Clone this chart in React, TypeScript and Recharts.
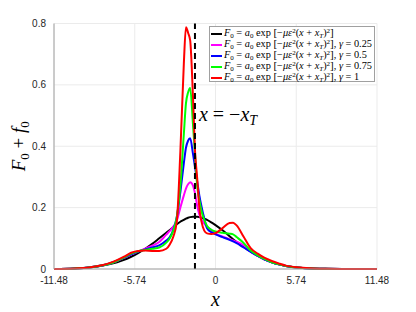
import React from "react";
import {
  LineChart,
  Line,
  XAxis,
  YAxis,
  CartesianGrid,
  ReferenceLine,
} from "recharts";

// sample positions along x
const xs = [
  -11.48, -10, -9, -8, -7.5, -7, -6.5, -6, -5.5, -5, -4.5, -4, -3.5, -3.25, -3,
  -2.75, -2.5, -2.25, -2.1, -1.95, -1.8, -1.6, -1.45, -1.3, -1.15, -1, -0.8,
  -0.6, -0.3, 0, 0.5, 1, 1.25, 1.5, 2, 2.5, 3, 3.5, 4, 4.5, 5, 6, 7, 8, 9, 10,
  11.48,
];

// F0 = a0 exp[...]  (no gamma)
const black = [
  0.0003, 0.002, 0.005, 0.011, 0.016, 0.022, 0.03, 0.04, 0.052, 0.066, 0.082,
  0.1, 0.118, 0.127, 0.137, 0.146, 0.154, 0.16, 0.164, 0.167, 0.169, 0.17,
  0.17, 0.17, 0.169, 0.167, 0.164, 0.16, 0.152, 0.143, 0.126, 0.107, 0.097,
  0.088, 0.072, 0.057, 0.043, 0.031, 0.022, 0.015, 0.01, 0.004, 0.0012,
  0.0004, 0.0001, 0, 0,
];
// gamma = 0.25
const magenta = [
  0, 0.002, 0.005, 0.012, 0.018, 0.026, 0.036, 0.047, 0.057, 0.066, 0.076,
  0.088, 0.112, 0.124, 0.138, 0.158, 0.2, 0.24, 0.262, 0.276, 0.283, 0.272,
  0.245, 0.205, 0.178, 0.162, 0.148, 0.138, 0.126, 0.115, 0.106, 0.097, 0.093,
  0.089, 0.077, 0.057, 0.043, 0.031, 0.022, 0.015, 0.01, 0.004, 0.0015, 0.0005,
  0.0001, 0, 0,
];
// gamma = 0.5
const blue = [
  0, 0.002, 0.005, 0.012, 0.018, 0.027, 0.037, 0.048, 0.057, 0.064, 0.07,
  0.077, 0.093, 0.104, 0.128, 0.17, 0.25, 0.345, 0.395, 0.418, 0.426, 0.375,
  0.33, 0.285, 0.24, 0.205, 0.165, 0.133, 0.12, 0.113, 0.104, 0.095, 0.09,
  0.084, 0.07, 0.056, 0.043, 0.031, 0.022, 0.015, 0.01, 0.004, 0.0015, 0.0005,
  0.0001, 0, 0,
];
// gamma = 0.75
const green = [
  0, 0.002, 0.005, 0.012, 0.018, 0.027, 0.038, 0.05, 0.058, 0.062, 0.066, 0.07,
  0.086, 0.1, 0.125, 0.17, 0.27, 0.44, 0.54, 0.575, 0.59, 0.47, 0.37, 0.27,
  0.225, 0.19, 0.16, 0.14, 0.128, 0.122, 0.118, 0.115, 0.113, 0.104, 0.085,
  0.06, 0.044, 0.032, 0.022, 0.015, 0.01, 0.004, 0.0015, 0.0005, 0.0001, 0, 0,
];
// gamma = 1
const red = [
  0, 0.002, 0.005, 0.013, 0.02, 0.029, 0.04, 0.053, 0.059, 0.06, 0.059, 0.059,
  0.066, 0.08, 0.105, 0.155, 0.38, 0.67, 0.788, 0.77, 0.745, 0.56, 0.38, 0.295,
  0.2, 0.155, 0.125, 0.116, 0.114, 0.117, 0.133, 0.15, 0.151, 0.142, 0.105,
  0.068, 0.05, 0.036, 0.026, 0.018, 0.011, 0.005, 0.002, 0.0007, 0.0002, 0, 0,
];

const gammas = ["", "0.25", "0.5", "0.75", "1"];
const colors = ["#000000", "#ff00ff", "#0000ff", "#00ff00", "#ff0000"];
const keys = ["black", "magenta", "blue", "green", "red"];

const xTicks = [-11.48, -5.74, 0, 5.74, 11.48];
const yTicks = [0, 0.2, 0.4, 0.6, 0.8];
const xT = -1.46;

const data = xs.map((x, i) => ({
  x,
  black: black[i],
  magenta: magenta[i],
  blue: blue[i],
  green: green[i],
  red: red[i],
}));

const serif = "'Liberation Serif', 'DejaVu Serif', serif";
const sans = "'Liberation Sans', Arial, sans-serif";

function MarkerLabel(props: any) {
  const { viewBox } = props;
  const x = viewBox.x + 4;
  const y = viewBox.y + 97;
  return (
    <text x={x} y={y} fontFamily={serif} fontSize={20} fill="#000">
      <tspan fontStyle="italic">x</tspan>
      <tspan> = −</tspan>
      <tspan fontStyle="italic">x</tspan>
      <tspan fontStyle="italic" fontSize={14} dy={4}>
        T
      </tspan>
    </text>
  );
}

function YLabel(props: any) {
  const { viewBox } = props;
  const cx = viewBox.x + 25;
  const cy = viewBox.y + viewBox.height / 2;
  return (
    <text
      x={cx}
      y={cy}
      transform={`rotate(-90 ${cx} ${cy})`}
      textAnchor="middle"
      fontFamily={serif}
      fontSize={19}
      fill="#000"
    >
      <tspan fontStyle="italic">F</tspan>
      <tspan fontSize={13} dy={4}>0</tspan>
      <tspan dy={-4}> + </tspan>
      <tspan fontStyle="italic">f</tspan>
      <tspan fontSize={13} dy={4}>0</tspan>
    </text>
  );
}

function XLabel(props: any) {
  const { viewBox } = props;
  return (
    <text
      x={viewBox.x + viewBox.width / 2}
      y={viewBox.y + 37}
      textAnchor="middle"
      fontFamily={serif}
      fontStyle="italic"
      fontSize={20}
      fill="#000"
    >
      x
    </text>
  );
}

function LegendRow({ color, gamma }: { color: string; gamma: string }) {
  const sub = { fontSize: 7, verticalAlign: "-2px", lineHeight: "6px" };
  const sup = { fontSize: 7, verticalAlign: "3px", lineHeight: "6px" };
  const bracket = { fontSize: 11, lineHeight: "9px" };
  return (
    <div style={{ display: "flex", alignItems: "center", height: 11 }}>
      <div style={{ width: 11, height: 2, background: color, marginRight: 2 }} />
      <span style={{ whiteSpace: "nowrap", lineHeight: "9px" }}>
        <i>F</i>
        <span style={sub}>0</span> = <i>a</i>
        <span style={sub}>0</span> exp <span style={bracket}>[</span>−<i>με</i>
        <span style={sup}>2</span>(<i>x</i> + <i>x</i>
        <span style={{ ...sub, fontStyle: "italic" }}>T</span>)
        <span style={sup}>2</span>
        <span style={bracket}>]</span>
        {gamma ? (
          <>
            , <i>γ</i> = {gamma}
          </>
        ) : null}
      </span>
    </div>
  );
}

export default function App() {
  return (
    <div
      style={{
        position: "absolute",
        left: 0,
        top: 0,
        width: 416,
        height: 312,
        background: "#fff",
      }}
    >
      <LineChart
        width={416}
        height={312}
        data={data}
        margin={{ top: 23.5, right: 39, bottom: 0, left: 0 }}
      >
        <CartesianGrid stroke="#ebebeb" strokeWidth={1} />
        <XAxis
          dataKey="x"
          type="number"
          domain={[-11.48, 11.48]}
          ticks={xTicks}
          tickLine={false}
          height={43}
          stroke="#a0a0a0"
          tick={{ fill: "#262626", fontSize: 10, fontFamily: sans }}
          tickFormatter={(v: number) => String(v)}
          label={<XLabel />}
        />
        <XAxis
          xAxisId="top"
          dataKey="x"
          type="number"
          orientation="top"
          domain={[-11.48, 11.48]}
          ticks={xTicks}
          tick={false}
          tickLine={false}
          height={0}
          stroke="#a0a0a0"
        />
        <YAxis
          type="number"
          domain={[0, 0.8]}
          ticks={yTicks}
          tickLine={false}
          width={54}
          stroke="#a0a0a0"
          tick={{ fill: "#262626", fontSize: 10, fontFamily: sans }}
          tickFormatter={(v: number) => String(v)}
          label={<YLabel />}
        />
        <YAxis
          yAxisId="right"
          orientation="right"
          domain={[0, 0.8]}
          ticks={yTicks}
          tick={false}
          tickLine={false}
          width={0}
          stroke="#a0a0a0"
        />
        {keys.map((k, i) => (
          <Line
            key={k}
            dataKey={k}
            type="monotone"
            stroke={colors[i]}
            strokeWidth={2}
            dot={false}
            activeDot={false}
            isAnimationActive={false}
          />
        ))}
        <ReferenceLine
          x={xT}
          stroke="#000"
          strokeWidth={2}
          strokeDasharray="6 4"
          label={<MarkerLabel />}
        />
      </LineChart>
      <div
        style={{
          position: "absolute",
          left: 209,
          top: 26,
          width: 166,
          height: 56,
          border: "1px solid #a0a0a0",
          background: "#fff",
          fontFamily: serif,
          fontSize: 10.3,
          paddingTop: 1,
          paddingLeft: 1,
          boxSizing: "border-box",
          color: "#000",
        }}
      >
        {colors.map((c, i) => (
          <LegendRow key={c} color={c} gamma={gammas[i]} />
        ))}
      </div>
    </div>
  );
}
